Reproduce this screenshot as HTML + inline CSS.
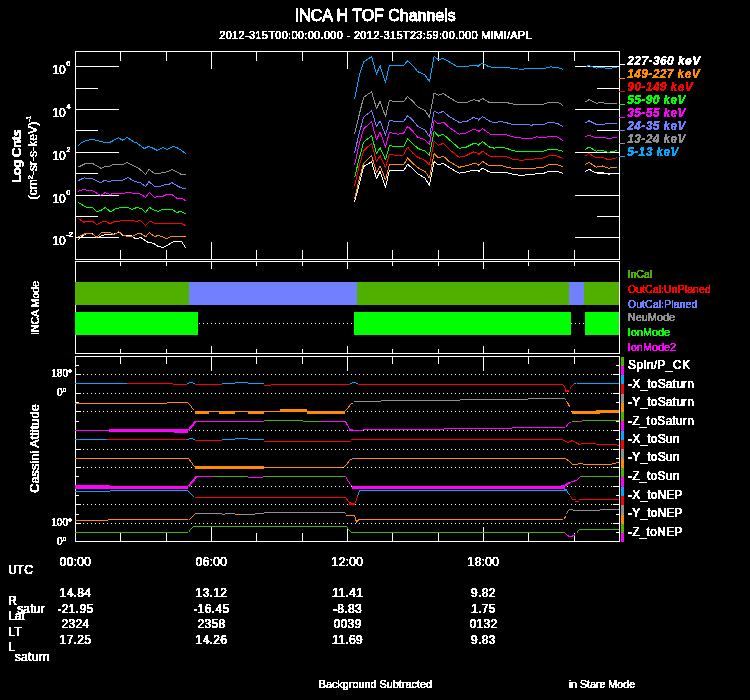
<!DOCTYPE html>
<html><head><meta charset="utf-8"><title>INCA H TOF Channels</title>
<style>
html,body{margin:0;padding:0;background:#000;}
body{width:750px;height:700px;overflow:hidden;font-family:"Liberation Sans",sans-serif;}
svg{display:block;font-family:"Liberation Sans",sans-serif;}
text{font-family:"Liberation Sans",sans-serif;}
</style></head><body>
<svg width="750" height="700" viewBox="0 0 750 700">
<rect x="0" y="0" width="750" height="700" fill="#000"/>
<defs><filter id="crisp" x="0" y="0" width="100%" height="100%" filterUnits="userSpaceOnUse" color-interpolation-filters="sRGB"><feComponentTransfer><feFuncA type="discrete" tableValues="0 0 1 1"/></feComponentTransfer></filter></defs>
<g>
<g shape-rendering="crispEdges">
<line x1="75.50" y1="51.00" x2="75.50" y2="260.00" stroke="#fff" stroke-width="1"/>
<line x1="619.50" y1="51.00" x2="619.50" y2="260.00" stroke="#fff" stroke-width="1"/>
<line x1="75.00" y1="51.50" x2="620.00" y2="51.50" stroke="#fff" stroke-width="1"/>
<line x1="75.00" y1="259.50" x2="620.00" y2="259.50" stroke="#fff" stroke-width="1"/>
<line x1="120.50" y1="52.00" x2="120.50" y2="61.00" stroke="#fff" stroke-width="1"/>
<line x1="120.50" y1="250.00" x2="120.50" y2="259.00" stroke="#fff" stroke-width="1"/>
<line x1="166.50" y1="52.00" x2="166.50" y2="61.00" stroke="#fff" stroke-width="1"/>
<line x1="166.50" y1="250.00" x2="166.50" y2="259.00" stroke="#fff" stroke-width="1"/>
<line x1="211.50" y1="52.00" x2="211.50" y2="69.00" stroke="#fff" stroke-width="1"/>
<line x1="211.50" y1="242.00" x2="211.50" y2="259.00" stroke="#fff" stroke-width="1"/>
<line x1="256.50" y1="52.00" x2="256.50" y2="61.00" stroke="#fff" stroke-width="1"/>
<line x1="256.50" y1="250.00" x2="256.50" y2="259.00" stroke="#fff" stroke-width="1"/>
<line x1="302.50" y1="52.00" x2="302.50" y2="61.00" stroke="#fff" stroke-width="1"/>
<line x1="302.50" y1="250.00" x2="302.50" y2="259.00" stroke="#fff" stroke-width="1"/>
<line x1="347.50" y1="52.00" x2="347.50" y2="69.00" stroke="#fff" stroke-width="1"/>
<line x1="347.50" y1="242.00" x2="347.50" y2="259.00" stroke="#fff" stroke-width="1"/>
<line x1="392.50" y1="52.00" x2="392.50" y2="61.00" stroke="#fff" stroke-width="1"/>
<line x1="392.50" y1="250.00" x2="392.50" y2="259.00" stroke="#fff" stroke-width="1"/>
<line x1="438.50" y1="52.00" x2="438.50" y2="61.00" stroke="#fff" stroke-width="1"/>
<line x1="438.50" y1="250.00" x2="438.50" y2="259.00" stroke="#fff" stroke-width="1"/>
<line x1="483.50" y1="52.00" x2="483.50" y2="69.00" stroke="#fff" stroke-width="1"/>
<line x1="483.50" y1="242.00" x2="483.50" y2="259.00" stroke="#fff" stroke-width="1"/>
<line x1="528.50" y1="52.00" x2="528.50" y2="61.00" stroke="#fff" stroke-width="1"/>
<line x1="528.50" y1="250.00" x2="528.50" y2="259.00" stroke="#fff" stroke-width="1"/>
<line x1="574.50" y1="52.00" x2="574.50" y2="61.00" stroke="#fff" stroke-width="1"/>
<line x1="574.50" y1="250.00" x2="574.50" y2="259.00" stroke="#fff" stroke-width="1"/>
<line x1="76.00" y1="66.50" x2="119.00" y2="66.50" stroke="#fff" stroke-width="1"/>
<line x1="575.00" y1="66.50" x2="619.00" y2="66.50" stroke="#fff" stroke-width="1"/>
<line x1="76.00" y1="109.50" x2="119.00" y2="109.50" stroke="#fff" stroke-width="1"/>
<line x1="575.00" y1="109.50" x2="619.00" y2="109.50" stroke="#fff" stroke-width="1"/>
<line x1="76.00" y1="152.50" x2="119.00" y2="152.50" stroke="#fff" stroke-width="1"/>
<line x1="575.00" y1="152.50" x2="619.00" y2="152.50" stroke="#fff" stroke-width="1"/>
<line x1="76.00" y1="195.50" x2="119.00" y2="195.50" stroke="#fff" stroke-width="1"/>
<line x1="575.00" y1="195.50" x2="619.00" y2="195.50" stroke="#fff" stroke-width="1"/>
<line x1="76.00" y1="237.50" x2="119.00" y2="237.50" stroke="#fff" stroke-width="1"/>
<line x1="575.00" y1="237.50" x2="619.00" y2="237.50" stroke="#fff" stroke-width="1"/>
<line x1="76.00" y1="88.50" x2="98.00" y2="88.50" stroke="#fff" stroke-width="1"/>
<line x1="597.00" y1="88.50" x2="619.00" y2="88.50" stroke="#fff" stroke-width="1"/>
<line x1="76.00" y1="130.50" x2="98.00" y2="130.50" stroke="#fff" stroke-width="1"/>
<line x1="597.00" y1="130.50" x2="619.00" y2="130.50" stroke="#fff" stroke-width="1"/>
<line x1="76.00" y1="173.50" x2="98.00" y2="173.50" stroke="#fff" stroke-width="1"/>
<line x1="597.00" y1="173.50" x2="619.00" y2="173.50" stroke="#fff" stroke-width="1"/>
<line x1="76.00" y1="216.50" x2="98.00" y2="216.50" stroke="#fff" stroke-width="1"/>
<line x1="597.00" y1="216.50" x2="619.00" y2="216.50" stroke="#fff" stroke-width="1"/>
</g>
<g shape-rendering="crispEdges" stroke-linejoin="round">
<polyline points="78.4,239.6 81.1,236.8 86.7,233.4 92.3,233.4 96.9,237.7 105.3,234.4 113.6,234.4 118.7,232.1 122.9,235.5 131.3,235.5 135.9,239.0 140.6,237.3 148.0,242.4 153.6,243.3 158.2,246.4 162.9,247.4 167.5,245.1 174.0,241.4 181.4,241.4 185.5,247.6" fill="none" stroke="#ffffff" stroke-width="1" />
<polyline points="78.4,236.8 85.8,233.4 92.3,234.0 96.9,237.3 101.6,232.5 109.9,232.5 114.0,234.9 118.7,231.6 122.9,234.9 127.6,236.4 132.2,236.4 136.9,234.0 140.6,233.4 145.6,236.8 149.3,232.5 154.5,236.4 159.1,235.5 166.6,238.6 171.8,236.4 185.5,236.4" fill="none" stroke="#ff8c00" stroke-width="1" />
<polyline points="78.4,218.6 83.9,222.3 86.7,221.0 92.3,221.0 96.9,224.7 101.2,222.3 105.3,221.0 109.9,223.8 113.6,221.9 118.3,221.4 122.9,220.4 133.1,220.4 136.9,221.4 140.6,220.4 145.6,225.6 149.9,221.0 154.5,223.4 181.4,223.4 185.5,225.6" fill="none" stroke="#ff0000" stroke-width="1" />
<polyline points="78.4,202.4 85.8,207.1 92.3,207.1 96.9,211.7 101.2,210.2 105.3,207.4 110.5,211.7 115.5,208.9 122.9,207.1 127.9,207.4 132.2,209.5 136.9,207.4 141.5,208.6 145.6,212.6 149.3,207.4 154.5,210.2 158.2,211.3 162.9,209.3 171.8,209.3 176.8,212.6 180.5,211.3 185.5,213.6" fill="none" stroke="#00ff00" stroke-width="1" />
<polyline points="78.4,191.3 83.4,189.4 87.6,190.4 92.3,190.4 100.6,195.4 105.3,192.6 109.9,194.4 113.6,193.5 122.9,193.5 127.9,192.2 134.1,193.5 140.6,194.1 145.6,197.4 149.3,192.6 154.5,197.4 158.2,196.3 162.9,196.3 166.6,194.4 171.8,194.4 176.8,198.3 181.4,198.3 185.5,200.6" fill="none" stroke="#ff00ff" stroke-width="1" />
<polyline points="78.4,180.5 83.9,177.9 92.3,178.7 100.6,182.6 104.4,180.5 109.9,181.6 113.6,180.1 122.9,180.1 127.9,177.4 134.1,181.1 140.6,182.9 145.6,186.6 148.9,181.6 154.5,186.3 160.1,186.3 164.7,184.8 168.4,184.8 171.8,182.6 176.8,185.7 181.4,187.9 185.5,188.7" fill="none" stroke="#7080ff" stroke-width="1" />
<polyline points="78.4,167.1 85.8,163.4 92.3,163.4 101.2,168.4 104.4,166.6 109.9,166.2 113.6,164.4 122.9,164.4 127.2,162.5 134.1,166.2 139.6,169.0 145.6,174.6 148.9,169.4 154.5,173.6 160.1,173.6 162.9,172.3 167.5,171.8 171.8,169.4 176.8,171.8 181.4,174.6 185.5,174.6" fill="none" stroke="#909090" stroke-width="1" />
<polyline points="78.4,145.8 81.1,143.0 85.8,140.6 92.3,139.3 97.9,140.6 104.4,142.4 109.9,142.4 118.3,137.8 122.9,140.2 127.2,137.4 134.1,142.1 136.9,143.0 144.3,148.6 148.9,146.3 157.3,150.4 162.9,147.6 167.5,149.5 173.1,146.3 176.8,147.6 181.4,150.4 185.5,153.6" fill="none" stroke="#00a8ff" stroke-width="1" />
<polyline points="354.6,201.8 359.0,184.8 363.6,166.5 371.6,161.7 376.5,178.7 380.1,171.4 385.5,187.2 389.3,170.7 403.7,170.7 407.6,164.1 412.9,169.0 417.8,173.8 425.1,178.2 429.4,185.5 434.1,161.7 438.4,164.8 443.3,163.4 449.4,167.7 459.1,173.1 466.4,171.9 473.7,170.2 480.0,171.4 478.0,171.3 482.6,168.3 489.4,172.0 506.4,172.5 512.5,174.2 521.0,175.4 533.1,174.2 544.1,173.2 548.9,171.3 556.2,171.3 562.7,173.2" fill="none" stroke="#ffffff" stroke-width="1" />
<polyline points="585.3,171.3 589.0,169.3 596.3,173.0 602.3,172.5 608.4,174.2 616.9,173.0" fill="none" stroke="#ffffff" stroke-width="1" />
<polyline points="354.6,199.3 359.0,179.9 363.6,163.4 371.6,155.6 376.5,172.6 380.1,165.8 385.5,179.9 389.3,164.8 403.7,164.8 407.6,158.0 412.9,163.4 417.8,167.7 425.1,171.4 429.4,178.0 434.1,153.6 438.4,158.0 443.3,156.1 449.4,161.7 459.1,167.3 466.4,165.8 473.7,163.4 480.0,164.6 478.0,165.7 482.6,161.5 489.4,165.9 500.3,165.2 506.4,167.1 512.5,168.3 533.1,168.3 544.1,167.1 548.9,164.5 556.2,164.5 562.7,166.4" fill="none" stroke="#ff8c00" stroke-width="1" />
<polyline points="585.3,164.5 589.0,162.3 596.3,167.1 602.3,165.9 608.4,168.3 616.9,167.1" fill="none" stroke="#ff8c00" stroke-width="1" />
<polyline points="354.6,186.0 359.0,166.5 363.6,150.7 371.6,143.4 376.5,161.7 380.1,155.6 385.5,167.7 389.3,154.4 398.3,155.6 403.7,154.9 407.6,147.1 412.9,153.2 417.8,157.3 425.1,160.5 429.4,164.8 434.1,141.5 438.4,145.1 443.3,143.4 449.4,149.5 459.1,157.3 466.4,155.6 473.7,151.9 480.0,153.9 478.0,155.0 482.6,151.1 489.4,156.0 506.4,156.7 512.5,159.1 521.0,160.3 533.1,159.1 544.1,157.9 548.9,155.5 556.2,155.5 562.7,158.4" fill="none" stroke="#ff0000" stroke-width="1" />
<polyline points="585.3,156.2 589.0,153.5 596.3,157.9 602.3,157.2 608.4,159.8 616.9,157.9" fill="none" stroke="#ff0000" stroke-width="1" />
<polyline points="354.6,177.5 359.0,159.2 363.6,142.2 371.6,135.7 376.5,153.6 380.1,147.6 385.5,159.7 389.3,145.9 403.7,146.4 407.6,138.6 412.9,143.9 417.8,148.3 425.1,151.2 429.4,155.6 434.1,131.3 438.4,136.1 443.3,134.2 449.4,139.8 459.1,148.3 466.4,147.1 473.7,143.4 480.0,144.7 478.0,145.3 482.6,141.6 489.4,147.0 494.3,148.2 500.3,147.0 506.4,148.2 512.5,150.6 521.0,151.8 533.1,151.1 544.1,151.1 548.9,149.4 556.2,149.4 562.7,151.3" fill="none" stroke="#00ff00" stroke-width="1" />
<polyline points="585.3,149.4 589.0,147.0 596.3,151.1 602.3,150.6 608.4,152.3 616.9,150.6" fill="none" stroke="#00ff00" stroke-width="1" />
<polyline points="354.6,165.3 359.0,144.7 363.6,128.9 371.6,121.6 376.5,139.8 380.1,132.0 385.5,147.1 389.3,132.5 398.3,134.2 403.7,133.0 407.6,126.4 412.9,131.3 417.8,137.4 425.1,139.8 429.4,144.7 434.1,120.3 438.4,124.0 443.3,122.0 449.4,127.6 459.1,134.2 466.4,133.0 473.7,129.3 480.0,131.3 478.0,131.9 482.6,128.8 490.6,134.3 506.4,134.8 512.5,136.8 521.0,138.0 533.1,138.0 536.8,136.8 544.1,138.0 548.9,136.5 556.2,136.5 562.7,140.2" fill="none" stroke="#ff00ff" stroke-width="1" />
<polyline points="585.3,136.5 589.0,135.3 596.3,138.0 602.3,137.3 608.4,138.5 616.9,137.3" fill="none" stroke="#ff00ff" stroke-width="1" />
<polyline points="354.6,153.2 359.0,133.7 363.6,117.2 371.6,110.6 376.5,126.4 380.1,120.8 385.5,135.4 389.3,120.8 403.7,121.6 407.6,115.5 412.9,120.3 417.8,126.4 425.1,130.1 429.4,136.9 434.1,111.1 438.4,113.1 443.3,111.4 449.4,116.7 459.1,122.3 466.4,121.6 473.7,117.4 480.0,119.9 478.0,120.3 482.6,116.6 489.4,121.0 494.3,122.7 500.3,121.5 506.4,122.7 512.5,124.4 523.4,124.4 530.7,125.1 544.1,124.4 548.9,122.2 557.4,123.4 562.7,126.3" fill="none" stroke="#7080ff" stroke-width="1" />
<polyline points="585.3,122.7 589.0,120.8 596.3,124.4 607.2,123.9 616.9,123.4" fill="none" stroke="#7080ff" stroke-width="1" />
<polyline points="354.6,133.7 359.0,115.5 363.6,97.3 371.6,91.7 376.5,108.7 380.1,101.4 385.5,116.7 389.3,100.9 403.7,101.4 407.6,96.5 412.9,101.4 417.8,107.0 425.1,110.6 429.4,117.4 434.1,93.1 438.4,95.3 443.3,93.6 449.4,97.7 457.9,102.6 466.4,102.6 473.7,99.7 480.0,101.4 478.0,101.6 482.6,98.4 489.4,102.5 506.4,102.5 512.5,104.0 544.1,104.0 548.9,102.1 557.4,102.1 562.7,105.2" fill="none" stroke="#909090" stroke-width="1" />
<polyline points="585.3,102.1 589.0,99.6 596.3,103.3 602.3,102.5 607.2,104.0 616.9,103.3" fill="none" stroke="#909090" stroke-width="1" />
<polyline points="354.6,99.0 359.0,76.6 363.6,62.0 371.6,56.7 376.5,74.2 380.1,65.7 385.5,82.7 389.3,65.7 403.7,65.2 407.6,60.8 412.9,65.7 417.8,71.7 425.1,74.9 429.4,81.9 434.1,56.4 438.4,59.6 443.3,58.4 449.4,62.0 456.7,66.4 466.4,66.4 473.7,65.2 480.0,65.7 477.3,66.4 482.6,63.2 488.2,66.4 494.3,67.6 506.4,67.6 521.0,69.3 533.1,68.1 545.3,68.1 550.1,66.9 557.4,67.3 562.7,69.3" fill="none" stroke="#00a8ff" stroke-width="1" />
<polyline points="586.1,66.4 589.0,65.6 596.3,68.1 602.3,67.6 608.4,68.6 616.9,67.3" fill="none" stroke="#00a8ff" stroke-width="1" />
</g>
<g shape-rendering="crispEdges">
<line x1="75.50" y1="261.00" x2="75.50" y2="354.00" stroke="#fff" stroke-width="1"/>
<line x1="619.50" y1="261.00" x2="619.50" y2="354.00" stroke="#fff" stroke-width="1"/>
<line x1="75.00" y1="261.50" x2="620.00" y2="261.50" stroke="#fff" stroke-width="1"/>
<line x1="75.00" y1="353.50" x2="620.00" y2="353.50" stroke="#fff" stroke-width="1"/>
<line x1="120.50" y1="262.00" x2="120.50" y2="266.00" stroke="#fff" stroke-width="1"/>
<line x1="120.50" y1="349.00" x2="120.50" y2="353.00" stroke="#fff" stroke-width="1"/>
<line x1="166.50" y1="262.00" x2="166.50" y2="266.00" stroke="#fff" stroke-width="1"/>
<line x1="166.50" y1="349.00" x2="166.50" y2="353.00" stroke="#fff" stroke-width="1"/>
<line x1="211.50" y1="262.00" x2="211.50" y2="269.00" stroke="#fff" stroke-width="1"/>
<line x1="211.50" y1="346.00" x2="211.50" y2="353.00" stroke="#fff" stroke-width="1"/>
<line x1="256.50" y1="262.00" x2="256.50" y2="266.00" stroke="#fff" stroke-width="1"/>
<line x1="256.50" y1="349.00" x2="256.50" y2="353.00" stroke="#fff" stroke-width="1"/>
<line x1="302.50" y1="262.00" x2="302.50" y2="266.00" stroke="#fff" stroke-width="1"/>
<line x1="302.50" y1="349.00" x2="302.50" y2="353.00" stroke="#fff" stroke-width="1"/>
<line x1="347.50" y1="262.00" x2="347.50" y2="269.00" stroke="#fff" stroke-width="1"/>
<line x1="347.50" y1="346.00" x2="347.50" y2="353.00" stroke="#fff" stroke-width="1"/>
<line x1="392.50" y1="262.00" x2="392.50" y2="266.00" stroke="#fff" stroke-width="1"/>
<line x1="392.50" y1="349.00" x2="392.50" y2="353.00" stroke="#fff" stroke-width="1"/>
<line x1="438.50" y1="262.00" x2="438.50" y2="266.00" stroke="#fff" stroke-width="1"/>
<line x1="438.50" y1="349.00" x2="438.50" y2="353.00" stroke="#fff" stroke-width="1"/>
<line x1="483.50" y1="262.00" x2="483.50" y2="269.00" stroke="#fff" stroke-width="1"/>
<line x1="483.50" y1="346.00" x2="483.50" y2="353.00" stroke="#fff" stroke-width="1"/>
<line x1="528.50" y1="262.00" x2="528.50" y2="266.00" stroke="#fff" stroke-width="1"/>
<line x1="528.50" y1="349.00" x2="528.50" y2="353.00" stroke="#fff" stroke-width="1"/>
<line x1="574.50" y1="262.00" x2="574.50" y2="266.00" stroke="#fff" stroke-width="1"/>
<line x1="574.50" y1="349.00" x2="574.50" y2="353.00" stroke="#fff" stroke-width="1"/>
<line x1="199" y1="323.5" x2="352" y2="323.5" stroke="#fff" stroke-width="1" stroke-dasharray="1 3"/>
<line x1="571" y1="323.5" x2="584" y2="323.5" stroke="#fff" stroke-width="1" stroke-dasharray="1 3"/>
<rect x="75.00" y="282.00" width="114.00" height="23.00" fill="#4fb000"/>
<rect x="189.00" y="282.00" width="168.00" height="23.00" fill="#7080ff"/>
<rect x="357.00" y="282.00" width="212.00" height="23.00" fill="#4fb000"/>
<rect x="569.00" y="282.00" width="15.00" height="23.00" fill="#7080ff"/>
<rect x="584.00" y="282.00" width="35.00" height="23.00" fill="#4fb000"/>
<rect x="75.00" y="312.00" width="123.00" height="23.00" fill="#00ff00"/>
<rect x="354.00" y="312.00" width="217.00" height="23.00" fill="#00ff00"/>
<rect x="585.00" y="312.00" width="34.00" height="23.00" fill="#00ff00"/>
</g>
<g shape-rendering="crispEdges">
<line x1="75.50" y1="356.00" x2="75.50" y2="542.00" stroke="#fff" stroke-width="1"/>
<line x1="619.50" y1="356.00" x2="619.50" y2="542.00" stroke="#fff" stroke-width="1"/>
<line x1="75.00" y1="356.50" x2="620.00" y2="356.50" stroke="#fff" stroke-width="1"/>
<line x1="75.00" y1="541.50" x2="620.00" y2="541.50" stroke="#fff" stroke-width="1"/>
<line x1="120.50" y1="357.00" x2="120.50" y2="364.00" stroke="#fff" stroke-width="1"/>
<line x1="120.50" y1="533.00" x2="120.50" y2="541.00" stroke="#fff" stroke-width="1"/>
<line x1="166.50" y1="357.00" x2="166.50" y2="364.00" stroke="#fff" stroke-width="1"/>
<line x1="166.50" y1="533.00" x2="166.50" y2="541.00" stroke="#fff" stroke-width="1"/>
<line x1="211.50" y1="357.00" x2="211.50" y2="371.00" stroke="#fff" stroke-width="1"/>
<line x1="211.50" y1="527.00" x2="211.50" y2="541.00" stroke="#fff" stroke-width="1"/>
<line x1="256.50" y1="357.00" x2="256.50" y2="364.00" stroke="#fff" stroke-width="1"/>
<line x1="256.50" y1="533.00" x2="256.50" y2="541.00" stroke="#fff" stroke-width="1"/>
<line x1="302.50" y1="357.00" x2="302.50" y2="364.00" stroke="#fff" stroke-width="1"/>
<line x1="302.50" y1="533.00" x2="302.50" y2="541.00" stroke="#fff" stroke-width="1"/>
<line x1="347.50" y1="357.00" x2="347.50" y2="371.00" stroke="#fff" stroke-width="1"/>
<line x1="347.50" y1="527.00" x2="347.50" y2="541.00" stroke="#fff" stroke-width="1"/>
<line x1="392.50" y1="357.00" x2="392.50" y2="364.00" stroke="#fff" stroke-width="1"/>
<line x1="392.50" y1="533.00" x2="392.50" y2="541.00" stroke="#fff" stroke-width="1"/>
<line x1="438.50" y1="357.00" x2="438.50" y2="364.00" stroke="#fff" stroke-width="1"/>
<line x1="438.50" y1="533.00" x2="438.50" y2="541.00" stroke="#fff" stroke-width="1"/>
<line x1="483.50" y1="357.00" x2="483.50" y2="371.00" stroke="#fff" stroke-width="1"/>
<line x1="483.50" y1="527.00" x2="483.50" y2="541.00" stroke="#fff" stroke-width="1"/>
<line x1="528.50" y1="357.00" x2="528.50" y2="364.00" stroke="#fff" stroke-width="1"/>
<line x1="528.50" y1="533.00" x2="528.50" y2="541.00" stroke="#fff" stroke-width="1"/>
<line x1="574.50" y1="357.00" x2="574.50" y2="364.00" stroke="#fff" stroke-width="1"/>
<line x1="574.50" y1="533.00" x2="574.50" y2="541.00" stroke="#fff" stroke-width="1"/>
<line x1="76.00" y1="365.50" x2="79.00" y2="365.50" stroke="#fff" stroke-width="1"/>
<line x1="616.00" y1="365.50" x2="619.00" y2="365.50" stroke="#fff" stroke-width="1"/>
<line x1="83" y1="374.5" x2="612" y2="374.5" stroke="#fff" stroke-width="1" stroke-dasharray="1 3"/>
<line x1="76.00" y1="374.50" x2="81.00" y2="374.50" stroke="#fff" stroke-width="1"/>
<line x1="613.00" y1="374.50" x2="619.00" y2="374.50" stroke="#fff" stroke-width="1"/>
<line x1="76.00" y1="383.50" x2="79.00" y2="383.50" stroke="#fff" stroke-width="1"/>
<line x1="616.00" y1="383.50" x2="619.00" y2="383.50" stroke="#fff" stroke-width="1"/>
<line x1="83" y1="393.5" x2="612" y2="393.5" stroke="#fff" stroke-width="1" stroke-dasharray="1 3"/>
<line x1="76.00" y1="393.50" x2="81.00" y2="393.50" stroke="#fff" stroke-width="1"/>
<line x1="613.00" y1="393.50" x2="619.00" y2="393.50" stroke="#fff" stroke-width="1"/>
<line x1="76.00" y1="402.50" x2="79.00" y2="402.50" stroke="#fff" stroke-width="1"/>
<line x1="616.00" y1="402.50" x2="619.00" y2="402.50" stroke="#fff" stroke-width="1"/>
<line x1="83" y1="411.5" x2="612" y2="411.5" stroke="#fff" stroke-width="1" stroke-dasharray="1 3"/>
<line x1="76.00" y1="411.50" x2="81.00" y2="411.50" stroke="#fff" stroke-width="1"/>
<line x1="613.00" y1="411.50" x2="619.00" y2="411.50" stroke="#fff" stroke-width="1"/>
<line x1="76.00" y1="421.50" x2="79.00" y2="421.50" stroke="#fff" stroke-width="1"/>
<line x1="616.00" y1="421.50" x2="619.00" y2="421.50" stroke="#fff" stroke-width="1"/>
<line x1="83" y1="430.5" x2="612" y2="430.5" stroke="#fff" stroke-width="1" stroke-dasharray="1 3"/>
<line x1="76.00" y1="430.50" x2="81.00" y2="430.50" stroke="#fff" stroke-width="1"/>
<line x1="613.00" y1="430.50" x2="619.00" y2="430.50" stroke="#fff" stroke-width="1"/>
<line x1="76.00" y1="439.50" x2="79.00" y2="439.50" stroke="#fff" stroke-width="1"/>
<line x1="616.00" y1="439.50" x2="619.00" y2="439.50" stroke="#fff" stroke-width="1"/>
<line x1="83" y1="449.5" x2="612" y2="449.5" stroke="#fff" stroke-width="1" stroke-dasharray="1 3"/>
<line x1="76.00" y1="449.50" x2="81.00" y2="449.50" stroke="#fff" stroke-width="1"/>
<line x1="613.00" y1="449.50" x2="619.00" y2="449.50" stroke="#fff" stroke-width="1"/>
<line x1="76.00" y1="458.50" x2="79.00" y2="458.50" stroke="#fff" stroke-width="1"/>
<line x1="616.00" y1="458.50" x2="619.00" y2="458.50" stroke="#fff" stroke-width="1"/>
<line x1="83" y1="467.5" x2="612" y2="467.5" stroke="#fff" stroke-width="1" stroke-dasharray="1 3"/>
<line x1="76.00" y1="467.50" x2="81.00" y2="467.50" stroke="#fff" stroke-width="1"/>
<line x1="613.00" y1="467.50" x2="619.00" y2="467.50" stroke="#fff" stroke-width="1"/>
<line x1="76.00" y1="476.50" x2="79.00" y2="476.50" stroke="#fff" stroke-width="1"/>
<line x1="616.00" y1="476.50" x2="619.00" y2="476.50" stroke="#fff" stroke-width="1"/>
<line x1="83" y1="486.5" x2="612" y2="486.5" stroke="#fff" stroke-width="1" stroke-dasharray="1 3"/>
<line x1="76.00" y1="486.50" x2="81.00" y2="486.50" stroke="#fff" stroke-width="1"/>
<line x1="613.00" y1="486.50" x2="619.00" y2="486.50" stroke="#fff" stroke-width="1"/>
<line x1="76.00" y1="495.50" x2="79.00" y2="495.50" stroke="#fff" stroke-width="1"/>
<line x1="616.00" y1="495.50" x2="619.00" y2="495.50" stroke="#fff" stroke-width="1"/>
<line x1="83" y1="504.5" x2="612" y2="504.5" stroke="#fff" stroke-width="1" stroke-dasharray="1 3"/>
<line x1="76.00" y1="504.50" x2="81.00" y2="504.50" stroke="#fff" stroke-width="1"/>
<line x1="613.00" y1="504.50" x2="619.00" y2="504.50" stroke="#fff" stroke-width="1"/>
<line x1="76.00" y1="514.50" x2="79.00" y2="514.50" stroke="#fff" stroke-width="1"/>
<line x1="616.00" y1="514.50" x2="619.00" y2="514.50" stroke="#fff" stroke-width="1"/>
<line x1="83" y1="523.5" x2="612" y2="523.5" stroke="#fff" stroke-width="1" stroke-dasharray="1 3"/>
<line x1="76.00" y1="523.50" x2="81.00" y2="523.50" stroke="#fff" stroke-width="1"/>
<line x1="613.00" y1="523.50" x2="619.00" y2="523.50" stroke="#fff" stroke-width="1"/>
<line x1="76.00" y1="532.50" x2="79.00" y2="532.50" stroke="#fff" stroke-width="1"/>
<line x1="616.00" y1="532.50" x2="619.00" y2="532.50" stroke="#fff" stroke-width="1"/>
<rect x="621.00" y="357.00" width="3.00" height="9.00" fill="#4fb000"/>
<rect x="621.00" y="366.00" width="3.00" height="9.00" fill="#ff00ff"/>
<rect x="621.00" y="375.00" width="3.00" height="9.00" fill="#00a8ff"/>
<rect x="621.00" y="384.00" width="3.00" height="10.00" fill="#ff0000"/>
<rect x="621.00" y="394.00" width="3.00" height="9.00" fill="#909090"/>
<rect x="621.00" y="403.00" width="3.00" height="9.00" fill="#ff8c00"/>
<rect x="621.00" y="412.00" width="3.00" height="9.00" fill="#4fb000"/>
<rect x="621.00" y="421.00" width="3.00" height="10.00" fill="#ff00ff"/>
<rect x="621.00" y="431.00" width="3.00" height="9.00" fill="#00a8ff"/>
<rect x="621.00" y="440.00" width="3.00" height="9.00" fill="#ff0000"/>
<rect x="621.00" y="449.00" width="3.00" height="10.00" fill="#909090"/>
<rect x="621.00" y="459.00" width="3.00" height="9.00" fill="#ff8c00"/>
<rect x="621.00" y="468.00" width="3.00" height="9.00" fill="#4fb000"/>
<rect x="621.00" y="477.00" width="3.00" height="10.00" fill="#ff00ff"/>
<rect x="621.00" y="487.00" width="3.00" height="9.00" fill="#00a8ff"/>
<rect x="621.00" y="496.00" width="3.00" height="9.00" fill="#ff0000"/>
<rect x="621.00" y="505.00" width="3.00" height="10.00" fill="#909090"/>
<rect x="621.00" y="515.00" width="3.00" height="9.00" fill="#ff8c00"/>
<rect x="621.00" y="524.00" width="3.00" height="9.00" fill="#4fb000"/>
<rect x="621.00" y="533.00" width="3.00" height="9.00" fill="#ff00ff"/>
<rect x="75.00" y="367.00" width="1.00" height="1.00" fill="#ff00ff"/>
<rect x="75.00" y="383.00" width="52.00" height="1.00" fill="#00a8ff"/>
<rect x="127.00" y="383.00" width="46.00" height="1.00" fill="#ff0000"/>
<rect x="173.00" y="384.00" width="14.00" height="1.00" fill="#ff0000"/>
<rect x="187.00" y="383.00" width="2.00" height="1.00" fill="#00a8ff"/>
<rect x="189.00" y="382.00" width="4.00" height="1.00" fill="#00a8ff"/>
<rect x="193.00" y="383.00" width="2.00" height="1.00" fill="#00a8ff"/>
<rect x="195.00" y="384.00" width="27.00" height="1.00" fill="#ff0000"/>
<rect x="222.00" y="383.00" width="13.00" height="1.00" fill="#00a8ff"/>
<rect x="235.00" y="382.00" width="13.00" height="1.00" fill="#00a8ff"/>
<rect x="248.00" y="383.00" width="16.00" height="1.00" fill="#00a8ff"/>
<rect x="264.00" y="385.00" width="7.00" height="1.00" fill="#ff0000"/>
<rect x="271.00" y="384.00" width="79.00" height="1.00" fill="#ff0000"/>
<rect x="350.00" y="383.00" width="2.00" height="1.00" fill="#00a8ff"/>
<rect x="352.00" y="382.00" width="4.00" height="1.00" fill="#00a8ff"/>
<rect x="356.00" y="383.00" width="2.00" height="1.00" fill="#00a8ff"/>
<rect x="358.00" y="384.00" width="204.00" height="1.00" fill="#ff0000"/>
<polyline points="562.5,384.5 564.5,386.5 565.5,389.5 566.5,390.5" fill="none" stroke="#ff0000" stroke-width="1" />
<rect x="565.00" y="390.00" width="4.00" height="2.00" fill="#ff0000"/>
<polyline points="569.5,389.5 571.5,386.5 574.5,383.5" fill="none" stroke="#ff0000" stroke-width="1" />
<rect x="574.00" y="383.00" width="2.00" height="1.00" fill="#00a8ff"/>
<rect x="577.00" y="383.00" width="42.00" height="1.00" fill="#00a8ff"/>
<rect x="75.00" y="403.00" width="92.00" height="1.00" fill="#ff8c00"/>
<rect x="167.00" y="402.00" width="20.00" height="1.00" fill="#ff8c00"/>
<polyline points="187.5,402.5 190.5,405.5 192.5,408.5 194.5,410.5" fill="none" stroke="#ff8c00" stroke-width="1" />
<rect x="195.00" y="411.00" width="14.00" height="3.00" fill="#ff8c00"/>
<rect x="209.00" y="411.00" width="10.00" height="1.00" fill="#ff8c00"/>
<rect x="219.00" y="411.00" width="16.00" height="3.00" fill="#ff8c00"/>
<rect x="235.00" y="411.00" width="13.00" height="1.00" fill="#ff8c00"/>
<rect x="248.00" y="411.00" width="16.00" height="3.00" fill="#ff8c00"/>
<rect x="264.00" y="411.00" width="16.00" height="1.00" fill="#ff8c00"/>
<rect x="280.00" y="409.00" width="27.00" height="3.00" fill="#ff8c00"/>
<rect x="307.00" y="411.00" width="38.00" height="3.00" fill="#ff8c00"/>
<polyline points="344.5,411.5 347.5,408.5 350.5,404.5 353.5,402.5" fill="none" stroke="#ff8c00" stroke-width="1" />
<rect x="354.00" y="401.00" width="27.00" height="1.00" fill="#909090"/>
<rect x="381.00" y="400.00" width="79.00" height="1.00" fill="#909090"/>
<rect x="460.00" y="399.00" width="68.00" height="1.00" fill="#909090"/>
<rect x="528.00" y="398.00" width="37.00" height="1.00" fill="#909090"/>
<polyline points="564.5,398.5 566.5,400.5" fill="none" stroke="#909090" stroke-width="1" />
<polyline points="566.5,401.5 567.5,402.5 568.5,404.5 569.5,406.5 570.5,407.5" fill="none" stroke="#ff8c00" stroke-width="1" />
<rect x="572.00" y="411.00" width="28.00" height="3.00" fill="#ff8c00"/>
<rect x="596.00" y="410.00" width="23.00" height="3.00" fill="#ff8c00"/>
<rect x="75.00" y="430.00" width="34.00" height="1.00" fill="#ff00ff"/>
<rect x="109.00" y="429.00" width="65.00" height="3.00" fill="#ff00ff"/>
<rect x="174.00" y="429.00" width="14.00" height="4.00" fill="#ff00ff"/>
<polyline points="188.5,430.5 191.5,426.5 195.5,421.5" fill="none" stroke="#ff00ff" stroke-width="2" />
<rect x="195.00" y="421.00" width="69.00" height="1.00" fill="#ff00ff"/>
<rect x="264.00" y="420.00" width="39.00" height="1.00" fill="#4fb000"/>
<rect x="303.00" y="421.00" width="18.00" height="1.00" fill="#4fb000"/>
<rect x="321.00" y="421.00" width="24.00" height="1.00" fill="#ff00ff"/>
<polyline points="345.5,421.5 347.5,425.5 349.5,428.5 352.5,430.5" fill="none" stroke="#ff00ff" stroke-width="1" />
<rect x="349.00" y="429.00" width="4.00" height="2.00" fill="#ff00ff"/>
<rect x="352.00" y="430.00" width="11.00" height="1.00" fill="#ff00ff"/>
<rect x="363.00" y="429.00" width="81.00" height="1.00" fill="#ff00ff"/>
<rect x="444.00" y="428.00" width="68.00" height="1.00" fill="#ff00ff"/>
<rect x="512.00" y="427.00" width="53.00" height="1.00" fill="#ff00ff"/>
<polyline points="565.5,427.5 568.5,423.5 571.5,421.5" fill="none" stroke="#ff00ff" stroke-width="1" />
<rect x="572.00" y="421.00" width="7.00" height="1.00" fill="#4fb000"/>
<rect x="579.00" y="421.00" width="3.00" height="1.00" fill="#ff00ff"/>
<rect x="582.00" y="420.00" width="37.00" height="1.00" fill="#4fb000"/>
<rect x="75.00" y="439.00" width="32.00" height="1.00" fill="#00a8ff"/>
<rect x="107.00" y="439.00" width="80.00" height="1.00" fill="#ff0000"/>
<rect x="187.00" y="439.00" width="2.00" height="1.00" fill="#00a8ff"/>
<rect x="189.00" y="438.00" width="4.00" height="1.00" fill="#00a8ff"/>
<rect x="193.00" y="439.00" width="2.00" height="1.00" fill="#00a8ff"/>
<rect x="195.00" y="440.00" width="27.00" height="1.00" fill="#ff0000"/>
<rect x="222.00" y="439.00" width="13.00" height="1.00" fill="#00a8ff"/>
<rect x="235.00" y="438.00" width="13.00" height="1.00" fill="#00a8ff"/>
<rect x="248.00" y="439.00" width="16.00" height="1.00" fill="#00a8ff"/>
<rect x="264.00" y="441.00" width="87.00" height="1.00" fill="#ff0000"/>
<rect x="351.00" y="439.00" width="211.00" height="1.00" fill="#ff0000"/>
<polyline points="562.5,439.5 567.5,442.5 570.5,441.5 572.5,440.5 575.5,442.5 579.5,444.5 582.5,443.5" fill="none" stroke="#ff0000" stroke-width="1" />
<rect x="582.00" y="443.00" width="14.00" height="1.00" fill="#ff0000"/>
<rect x="596.00" y="444.00" width="21.00" height="1.00" fill="#ff0000"/>
<rect x="617.00" y="445.00" width="2.00" height="1.00" fill="#ff0000"/>
<rect x="75.00" y="458.00" width="113.00" height="1.00" fill="#ff8c00"/>
<polyline points="188.5,458.5 191.5,462.5 193.5,465.5 195.5,467.5" fill="none" stroke="#ff8c00" stroke-width="1" />
<rect x="195.00" y="466.00" width="69.00" height="3.00" fill="#ff8c00"/>
<rect x="264.00" y="467.00" width="79.00" height="1.00" fill="#ff8c00"/>
<polyline points="343.5,467.5 346.5,464.5 349.5,460.5 352.5,458.5" fill="none" stroke="#ff8c00" stroke-width="1" />
<rect x="352.00" y="458.00" width="4.00" height="1.00" fill="#909090"/>
<rect x="356.00" y="458.00" width="209.00" height="1.00" fill="#ff8c00"/>
<polyline points="565.5,458.5 569.5,461.5 572.5,464.5" fill="none" stroke="#ff8c00" stroke-width="1" />
<rect x="572.00" y="464.00" width="6.00" height="1.00" fill="#ff8c00"/>
<rect x="578.00" y="463.00" width="5.00" height="1.00" fill="#ff8c00"/>
<rect x="583.00" y="464.00" width="29.00" height="1.00" fill="#ff8c00"/>
<rect x="612.00" y="463.00" width="4.00" height="1.00" fill="#ff8c00"/>
<rect x="616.00" y="462.00" width="3.00" height="1.00" fill="#ff8c00"/>
<rect x="75.00" y="485.00" width="35.00" height="4.00" fill="#ff00ff"/>
<rect x="110.00" y="486.00" width="78.00" height="3.00" fill="#ff00ff"/>
<polyline points="188.5,486.5 192.5,481.5 196.5,476.5" fill="none" stroke="#ff00ff" stroke-width="2" />
<rect x="196.00" y="476.00" width="17.00" height="1.00" fill="#ff00ff"/>
<rect x="213.00" y="476.00" width="35.00" height="1.00" fill="#4fb000"/>
<rect x="248.00" y="477.00" width="15.00" height="1.00" fill="#ff00ff"/>
<rect x="263.00" y="476.00" width="82.00" height="1.00" fill="#4fb000"/>
<polyline points="345.5,476.5 348.5,481.5 350.5,484.5 352.5,486.5" fill="none" stroke="#ff00ff" stroke-width="1" />
<rect x="352.00" y="486.00" width="211.00" height="3.00" fill="#ff00ff"/>
<rect x="561.00" y="485.00" width="4.00" height="4.00" fill="#ff00ff"/>
<polyline points="563.5,486.5 566.5,484.5 569.5,482.5" fill="none" stroke="#ff00ff" stroke-width="2" />
<polyline points="569.5,482.5 572.5,481.5 576.5,480.5 578.5,478.5 580.5,476.5" fill="none" stroke="#ff00ff" stroke-width="1" />
<rect x="581.00" y="476.00" width="38.00" height="1.00" fill="#4fb000"/>
<rect x="75.00" y="491.00" width="35.00" height="1.00" fill="#00a8ff"/>
<rect x="110.00" y="490.00" width="77.00" height="1.00" fill="#00a8ff"/>
<polyline points="187.5,490.5 190.5,493.5 194.5,497.5" fill="none" stroke="#00a8ff" stroke-width="1" />
<rect x="195.00" y="497.00" width="150.00" height="1.00" fill="#ff0000"/>
<polyline points="345.5,497.5 348.5,501.5 352.5,504.5 355.5,502.5 357.5,496.5" fill="none" stroke="#ff0000" stroke-width="1" />
<rect x="349.00" y="503.00" width="6.00" height="2.00" fill="#ff0000"/>
<polyline points="357.5,496.5 359.5,490.5" fill="none" stroke="#00a8ff" stroke-width="1" />
<rect x="359.00" y="490.00" width="207.00" height="1.00" fill="#00a8ff"/>
<rect x="564.00" y="489.00" width="3.00" height="2.00" fill="#00a8ff"/>
<polyline points="566.5,490.5 568.5,493.5 570.5,495.5" fill="none" stroke="#00a8ff" stroke-width="1" />
<polyline points="570.5,496.5 572.5,499.5 575.5,499.5" fill="none" stroke="#ff0000" stroke-width="1" />
<rect x="575.00" y="501.00" width="4.00" height="1.00" fill="#ff0000"/>
<rect x="579.00" y="499.00" width="40.00" height="1.00" fill="#ff0000"/>
<rect x="75.00" y="520.00" width="33.00" height="1.00" fill="#ff8c00"/>
<rect x="108.00" y="519.00" width="80.00" height="1.00" fill="#ff8c00"/>
<polyline points="188.5,520.5 191.5,517.5 195.5,513.5" fill="none" stroke="#ff8c00" stroke-width="1" />
<rect x="195.00" y="513.00" width="27.00" height="1.00" fill="#909090"/>
<rect x="222.00" y="514.00" width="3.00" height="1.00" fill="#909090"/>
<rect x="225.00" y="513.00" width="10.00" height="1.00" fill="#909090"/>
<rect x="235.00" y="514.00" width="5.00" height="1.00" fill="#ff8c00"/>
<rect x="240.00" y="514.00" width="15.00" height="1.00" fill="#909090"/>
<rect x="255.00" y="513.00" width="9.00" height="1.00" fill="#909090"/>
<rect x="264.00" y="512.00" width="80.00" height="1.00" fill="#909090"/>
<polyline points="344.5,512.5 346.5,514.5" fill="none" stroke="#909090" stroke-width="1" />
<rect x="346.00" y="515.00" width="8.00" height="1.00" fill="#ff8c00"/>
<polyline points="354.5,515.5 355.5,518.5 356.5,522.5 357.5,521.5 358.5,519.5" fill="none" stroke="#ff8c00" stroke-width="1" />
<rect x="358.00" y="519.00" width="205.00" height="1.00" fill="#ff8c00"/>
<polyline points="563.5,519.5 564.5,518.5 565.5,516.5" fill="none" stroke="#ff8c00" stroke-width="1" />
<polyline points="566.5,514.5 567.5,511.5 569.5,509.5" fill="none" stroke="#909090" stroke-width="1" />
<rect x="569.00" y="509.00" width="4.00" height="1.00" fill="#909090"/>
<rect x="573.00" y="510.00" width="27.00" height="1.00" fill="#909090"/>
<rect x="600.00" y="509.00" width="19.00" height="1.00" fill="#909090"/>
<rect x="75.00" y="532.00" width="113.00" height="1.00" fill="#4fb000"/>
<polyline points="188.5,532.5 190.5,529.5 193.5,526.5" fill="none" stroke="#4fb000" stroke-width="1" />
<rect x="193.00" y="526.00" width="153.00" height="1.00" fill="#4fb000"/>
<polyline points="346.5,526.5 348.5,529.5 351.5,532.5" fill="none" stroke="#4fb000" stroke-width="1" />
<rect x="351.00" y="532.00" width="214.00" height="1.00" fill="#4fb000"/>
<polyline points="565.5,533.5 567.5,535.5 569.5,536.5 571.5,536.5 573.5,535.5 575.5,534.5" fill="none" stroke="#ff00ff" stroke-width="1" />
<polyline points="576.5,533.5 578.5,530.5 579.5,529.5" fill="none" stroke="#4fb000" stroke-width="1" />
<rect x="579.00" y="529.00" width="40.00" height="1.00" fill="#4fb000"/>
</g>
<g shape-rendering="crispEdges">
<rect x="619.00" y="64.00" width="6.00" height="1.00" fill="#ffffff"/>
<rect x="619.00" y="78.00" width="6.00" height="1.00" fill="#ff8c00"/>
<rect x="619.00" y="91.00" width="6.00" height="1.00" fill="#ff0000"/>
<rect x="619.00" y="104.00" width="6.00" height="1.00" fill="#00ff00"/>
<rect x="619.00" y="117.00" width="6.00" height="1.00" fill="#ff00ff"/>
<rect x="619.00" y="130.00" width="6.00" height="1.00" fill="#7080ff"/>
<rect x="619.00" y="143.00" width="6.00" height="1.00" fill="#909090"/>
<rect x="619.00" y="156.00" width="6.00" height="1.00" fill="#00a8ff"/>
</g>
</g>
<g filter="url(#crisp)">
<text x="294.80" y="20.60" font-size="16" fill="#fff" stroke="#fff" stroke-width="0.9" text-anchor="start" font-weight="normal" font-style="normal" textLength="161" lengthAdjust="spacing" >INCA H TOF Channels</text>
<text x="219.20" y="38.80" font-size="11" fill="#fff" stroke="#fff" stroke-width="0.65" text-anchor="start" font-weight="normal" font-style="normal" textLength="312.5" lengthAdjust="spacing" >2012-315T00:00:00.000 - 2012-315T23:59:00.000 MIMI/APL</text>
<text x="52.60" y="73.70" font-size="12" fill="#fff" stroke="#fff" stroke-width="0.7" text-anchor="start" font-weight="normal" font-style="normal" textLength="13.2" lengthAdjust="spacing" >10</text>
<text x="66.20" y="65.70" font-size="7.5" fill="#fff" stroke="#fff" stroke-width="0.5" text-anchor="start" font-weight="normal" font-style="normal" >6</text>
<text x="52.60" y="116.70" font-size="12" fill="#fff" stroke="#fff" stroke-width="0.7" text-anchor="start" font-weight="normal" font-style="normal" textLength="13.2" lengthAdjust="spacing" >10</text>
<text x="66.20" y="108.70" font-size="7.5" fill="#fff" stroke="#fff" stroke-width="0.5" text-anchor="start" font-weight="normal" font-style="normal" >4</text>
<text x="52.60" y="159.70" font-size="12" fill="#fff" stroke="#fff" stroke-width="0.7" text-anchor="start" font-weight="normal" font-style="normal" textLength="13.2" lengthAdjust="spacing" >10</text>
<text x="66.20" y="151.70" font-size="7.5" fill="#fff" stroke="#fff" stroke-width="0.5" text-anchor="start" font-weight="normal" font-style="normal" >2</text>
<text x="52.60" y="202.70" font-size="12" fill="#fff" stroke="#fff" stroke-width="0.7" text-anchor="start" font-weight="normal" font-style="normal" textLength="13.2" lengthAdjust="spacing" >10</text>
<text x="66.20" y="194.70" font-size="7.5" fill="#fff" stroke="#fff" stroke-width="0.5" text-anchor="start" font-weight="normal" font-style="normal" >0</text>
<text x="52.60" y="244.70" font-size="12" fill="#fff" stroke="#fff" stroke-width="0.7" text-anchor="start" font-weight="normal" font-style="normal" textLength="13.2" lengthAdjust="spacing" >10</text>
<text x="66.20" y="236.70" font-size="7.5" fill="#fff" stroke="#fff" stroke-width="0.5" text-anchor="start" font-weight="normal" font-style="normal" >-2</text>
<text transform="translate(20.6,156) rotate(-90)" x="0" y="0" font-size="13" fill="#fff" stroke="#fff" stroke-width="0.35" text-anchor="middle" font-weight="bold" textLength="53.5" lengthAdjust="spacing">Log Cnts</text>
<text transform="translate(37,157.5) rotate(-90)" x="0" y="0" font-size="12.2" fill="#fff" stroke="#fff" stroke-width="0.5" text-anchor="middle" font-weight="normal">(cm<tspan font-size="7" dy="-4.5">2</tspan><tspan dy="4.5">-sr-s-keV)</tspan><tspan font-size="7" dy="-6">-1</tspan></text>
<text transform="translate(38.8,308) rotate(-90)" x="0" y="0" font-size="10.5" fill="#fff" stroke="#fff" stroke-width="0.55" text-anchor="middle" font-weight="normal" textLength="54" lengthAdjust="spacing">INCA Mode</text>
<text transform="translate(39,448.5) rotate(-90)" x="0" y="0" font-size="12.5" fill="#fff" stroke="#fff" stroke-width="0.7" text-anchor="middle" font-weight="normal" textLength="88.5" lengthAdjust="spacing">Cassini Attitude</text>
<text x="627.20" y="65.00" font-size="12" fill="#ffffff" stroke="#ffffff" stroke-width="0.3" text-anchor="start" font-weight="bold" font-style="italic" textLength="73.0" lengthAdjust="spacing" >227-360 keV</text>
<text x="627.20" y="78.00" font-size="12" fill="#ff8c00" stroke="#ff8c00" stroke-width="0.3" text-anchor="start" font-weight="bold" font-style="italic" textLength="72.5" lengthAdjust="spacing" >149-227 keV</text>
<text x="627.20" y="91.00" font-size="12" fill="#ff0000" stroke="#ff0000" stroke-width="0.3" text-anchor="start" font-weight="bold" font-style="italic" textLength="65.5" lengthAdjust="spacing" >90-149 keV</text>
<text x="627.20" y="104.00" font-size="12" fill="#00ff00" stroke="#00ff00" stroke-width="0.3" text-anchor="start" font-weight="bold" font-style="italic" textLength="58.3" lengthAdjust="spacing" >55-90 keV</text>
<text x="627.20" y="117.00" font-size="12" fill="#ff00ff" stroke="#ff00ff" stroke-width="0.3" text-anchor="start" font-weight="bold" font-style="italic" textLength="58.3" lengthAdjust="spacing" >35-55 keV</text>
<text x="627.20" y="130.00" font-size="12" fill="#7080ff" stroke="#7080ff" stroke-width="0.3" text-anchor="start" font-weight="bold" font-style="italic" textLength="58.3" lengthAdjust="spacing" >24-35 keV</text>
<text x="627.20" y="143.00" font-size="12" fill="#909090" stroke="#909090" stroke-width="0.3" text-anchor="start" font-weight="bold" font-style="italic" textLength="58.3" lengthAdjust="spacing" >13-24 keV</text>
<text x="627.20" y="156.00" font-size="12" fill="#00a8ff" stroke="#00a8ff" stroke-width="0.3" text-anchor="start" font-weight="bold" font-style="italic" textLength="51.3" lengthAdjust="spacing" >5-13 keV</text>
<text x="627.80" y="278.00" font-size="10.8" fill="#4fb000" stroke="#4fb000" stroke-width="0.55" text-anchor="start" font-weight="normal" font-style="normal" textLength="24.2" lengthAdjust="spacing" >InCal</text>
<text x="627.80" y="292.90" font-size="10.8" fill="#ff0000" stroke="#ff0000" stroke-width="0.55" text-anchor="start" font-weight="normal" font-style="normal" textLength="82.9" lengthAdjust="spacing" >OutCal:UnPlaned</text>
<text x="627.80" y="308.40" font-size="10.8" fill="#7080ff" stroke="#7080ff" stroke-width="0.55" text-anchor="start" font-weight="normal" font-style="normal" textLength="69.6" lengthAdjust="spacing" >OutCal:Planed</text>
<text x="627.80" y="320.60" font-size="10.8" fill="#909090" stroke="#909090" stroke-width="0.55" text-anchor="start" font-weight="normal" font-style="normal" textLength="47.3" lengthAdjust="spacing" >NeuMode</text>
<text x="627.80" y="335.70" font-size="10.8" fill="#00ff00" stroke="#00ff00" stroke-width="0.55" text-anchor="start" font-weight="normal" font-style="normal" textLength="42.3" lengthAdjust="spacing" >IonMode</text>
<text x="627.80" y="350.90" font-size="10.8" fill="#ff00ff" stroke="#ff00ff" stroke-width="0.55" text-anchor="start" font-weight="normal" font-style="normal" textLength="48.3" lengthAdjust="spacing" >IonMode2</text>
<text x="628.10" y="368.60" font-size="12" fill="#fff" stroke="#fff" stroke-width="0.7" text-anchor="start" font-weight="normal" font-style="normal" textLength="62" lengthAdjust="spacing" >Spin/P_CK</text>
<text x="628.10" y="387.60" font-size="12" fill="#fff" stroke="#fff" stroke-width="0.7" text-anchor="start" font-weight="normal" font-style="normal" textLength="65.8" lengthAdjust="spacing" >-X_toSaturn</text>
<text x="628.10" y="405.90" font-size="12" fill="#fff" stroke="#fff" stroke-width="0.7" text-anchor="start" font-weight="normal" font-style="normal" textLength="65.8" lengthAdjust="spacing" >-Y_toSaturn</text>
<text x="628.10" y="424.60" font-size="12" fill="#fff" stroke="#fff" stroke-width="0.7" text-anchor="start" font-weight="normal" font-style="normal" textLength="65.8" lengthAdjust="spacing" >-Z_toSaturn</text>
<text x="628.10" y="442.50" font-size="12" fill="#fff" stroke="#fff" stroke-width="0.7" text-anchor="start" font-weight="normal" font-style="normal" textLength="51.3" lengthAdjust="spacing" >-X_toSun</text>
<text x="628.10" y="461.30" font-size="12" fill="#fff" stroke="#fff" stroke-width="0.7" text-anchor="start" font-weight="normal" font-style="normal" textLength="51.3" lengthAdjust="spacing" >-Y_toSun</text>
<text x="628.10" y="480.10" font-size="12" fill="#fff" stroke="#fff" stroke-width="0.7" text-anchor="start" font-weight="normal" font-style="normal" textLength="51.3" lengthAdjust="spacing" >-Z_toSun</text>
<text x="628.10" y="498.60" font-size="12" fill="#fff" stroke="#fff" stroke-width="0.7" text-anchor="start" font-weight="normal" font-style="normal" textLength="54.3" lengthAdjust="spacing" >-X_toNEP</text>
<text x="628.10" y="517.40" font-size="12" fill="#fff" stroke="#fff" stroke-width="0.7" text-anchor="start" font-weight="normal" font-style="normal" textLength="54.3" lengthAdjust="spacing" >-Y_toNEP</text>
<text x="628.10" y="535.90" font-size="12" fill="#fff" stroke="#fff" stroke-width="0.7" text-anchor="start" font-weight="normal" font-style="normal" textLength="54.3" lengthAdjust="spacing" >-Z_toNEP</text>
<text x="72.00" y="377.00" font-size="10" fill="#fff" stroke="#fff" stroke-width="0.5" text-anchor="end" font-weight="normal" font-style="normal" >180°</text>
<text x="66.50" y="396.00" font-size="10" fill="#fff" stroke="#fff" stroke-width="0.5" text-anchor="end" font-weight="normal" font-style="normal" >0°</text>
<text x="72.00" y="525.80" font-size="10" fill="#fff" stroke="#fff" stroke-width="0.5" text-anchor="end" font-weight="normal" font-style="normal" >100°</text>
<text x="66.50" y="545.00" font-size="10" fill="#fff" stroke="#fff" stroke-width="0.5" text-anchor="end" font-weight="normal" font-style="normal" >0°</text>
<text x="75.50" y="565.50" font-size="12" fill="#fff" stroke="#fff" stroke-width="0.7" text-anchor="middle" font-weight="normal" font-style="normal" letter-spacing="0.35">00:00</text>
<text x="211.50" y="565.50" font-size="12" fill="#fff" stroke="#fff" stroke-width="0.7" text-anchor="middle" font-weight="normal" font-style="normal" letter-spacing="0.35">06:00</text>
<text x="347.50" y="565.50" font-size="12" fill="#fff" stroke="#fff" stroke-width="0.7" text-anchor="middle" font-weight="normal" font-style="normal" letter-spacing="0.35">12:00</text>
<text x="483.50" y="565.50" font-size="12" fill="#fff" stroke="#fff" stroke-width="0.7" text-anchor="middle" font-weight="normal" font-style="normal" letter-spacing="0.35">18:00</text>
<text x="75.50" y="597.00" font-size="12" fill="#fff" stroke="#fff" stroke-width="0.7" text-anchor="middle" font-weight="normal" font-style="normal" letter-spacing="0.35">14.84</text>
<text x="211.50" y="597.00" font-size="12" fill="#fff" stroke="#fff" stroke-width="0.7" text-anchor="middle" font-weight="normal" font-style="normal" letter-spacing="0.35">13.12</text>
<text x="347.50" y="597.00" font-size="12" fill="#fff" stroke="#fff" stroke-width="0.7" text-anchor="middle" font-weight="normal" font-style="normal" letter-spacing="0.35">11.41</text>
<text x="483.50" y="597.00" font-size="12" fill="#fff" stroke="#fff" stroke-width="0.7" text-anchor="middle" font-weight="normal" font-style="normal" letter-spacing="0.35">9.82</text>
<text x="75.50" y="612.80" font-size="12" fill="#fff" stroke="#fff" stroke-width="0.7" text-anchor="middle" font-weight="normal" font-style="normal" letter-spacing="0.35">-21.95</text>
<text x="211.50" y="612.80" font-size="12" fill="#fff" stroke="#fff" stroke-width="0.7" text-anchor="middle" font-weight="normal" font-style="normal" letter-spacing="0.35">-16.45</text>
<text x="347.50" y="612.80" font-size="12" fill="#fff" stroke="#fff" stroke-width="0.7" text-anchor="middle" font-weight="normal" font-style="normal" letter-spacing="0.35">-8.83</text>
<text x="483.50" y="612.80" font-size="12" fill="#fff" stroke="#fff" stroke-width="0.7" text-anchor="middle" font-weight="normal" font-style="normal" letter-spacing="0.35">1.75</text>
<text x="75.50" y="628.00" font-size="12" fill="#fff" stroke="#fff" stroke-width="0.7" text-anchor="middle" font-weight="normal" font-style="normal" letter-spacing="0.35">2324</text>
<text x="211.50" y="628.00" font-size="12" fill="#fff" stroke="#fff" stroke-width="0.7" text-anchor="middle" font-weight="normal" font-style="normal" letter-spacing="0.35">2358</text>
<text x="347.50" y="628.00" font-size="12" fill="#fff" stroke="#fff" stroke-width="0.7" text-anchor="middle" font-weight="normal" font-style="normal" letter-spacing="0.35">0039</text>
<text x="483.50" y="628.00" font-size="12" fill="#fff" stroke="#fff" stroke-width="0.7" text-anchor="middle" font-weight="normal" font-style="normal" letter-spacing="0.35">0132</text>
<text x="75.50" y="643.60" font-size="12" fill="#fff" stroke="#fff" stroke-width="0.7" text-anchor="middle" font-weight="normal" font-style="normal" letter-spacing="0.35">17.25</text>
<text x="211.50" y="643.60" font-size="12" fill="#fff" stroke="#fff" stroke-width="0.7" text-anchor="middle" font-weight="normal" font-style="normal" letter-spacing="0.35">14.26</text>
<text x="347.50" y="643.60" font-size="12" fill="#fff" stroke="#fff" stroke-width="0.7" text-anchor="middle" font-weight="normal" font-style="normal" letter-spacing="0.35">11.69</text>
<text x="483.50" y="643.60" font-size="12" fill="#fff" stroke="#fff" stroke-width="0.7" text-anchor="middle" font-weight="normal" font-style="normal" letter-spacing="0.35">9.83</text>
<text x="8.20" y="574.00" font-size="12" fill="#fff" stroke="#fff" stroke-width="0.7" text-anchor="start" font-weight="normal" font-style="normal" >UTC</text>
<text x="8.20" y="605.00" font-size="12" fill="#fff" stroke="#fff" stroke-width="0.7" text-anchor="start" font-weight="normal" font-style="normal" >R</text>
<text x="17.20" y="613.40" font-size="12" fill="#fff" stroke="#fff" stroke-width="0.7" text-anchor="start" font-weight="normal" font-style="normal" textLength="27.2" lengthAdjust="spacing" >satur</text>
<text x="8.20" y="620.40" font-size="12" fill="#fff" stroke="#fff" stroke-width="0.7" text-anchor="start" font-weight="normal" font-style="normal" >Lat</text>
<text x="8.20" y="635.80" font-size="12" fill="#fff" stroke="#fff" stroke-width="0.7" text-anchor="start" font-weight="normal" font-style="normal" >LT</text>
<text x="8.20" y="651.40" font-size="12" fill="#fff" stroke="#fff" stroke-width="0.7" text-anchor="start" font-weight="normal" font-style="normal" >L</text>
<text x="14.80" y="660.80" font-size="12" fill="#fff" stroke="#fff" stroke-width="0.7" text-anchor="start" font-weight="normal" font-style="normal" textLength="34.8" lengthAdjust="spacing" >saturn</text>
<text x="318.70" y="687.90" font-size="10.8" fill="#fff" stroke="#fff" stroke-width="0.55" text-anchor="start" font-weight="normal" font-style="normal" textLength="113.3" lengthAdjust="spacing" >Background Subtracted</text>
<text x="568.70" y="687.90" font-size="10.8" fill="#fff" stroke="#fff" stroke-width="0.55" text-anchor="start" font-weight="normal" font-style="normal" textLength="66.5" lengthAdjust="spacing" >in Stare Mode</text>
</g>
</svg>
</body></html>
